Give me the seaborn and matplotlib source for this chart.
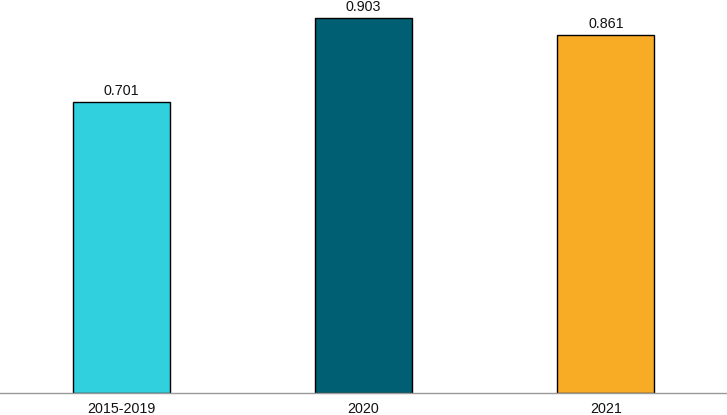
import pandas as pd
import matplotlib
matplotlib.use("Agg")
import matplotlib.pyplot as plt
import seaborn as sns

# chart values
periods = ["2015-2019", "2020", "2021"]
values = [0.701, 0.903, 0.861]
colors = ["#31D0DF", "#005F73", "#F8AB25"]

df = pd.DataFrame({"period": periods, "value": values})

sns.set_style("white")
plt.rcParams["font.family"] = ["Liberation Sans", "DejaVu Sans"]

fig = plt.figure(figsize=(7.27, 4.15), dpi=100)
ax = fig.add_axes([0, 0.0537, 1, 0.9463])

sns.barplot(data=df, x="period", y="value", hue="period", palette=colors,
            width=0.4, edgecolor="black", linewidth=1, saturation=1,
            legend=False, ax=ax)

for c in ax.containers:
    ax.bar_label(c, fmt="%.3f", padding=3, fontsize=10.3, color="#111111")

ax.set_xlim(-0.5, 2.5)
ax.set_ylim(0, 0.946)
ax.set_xlabel("")
ax.set_ylabel("")
ax.set_yticks([])
ax.tick_params(axis="x", length=0, pad=7, labelsize=10.3, colors="#111111")

for side in ["top", "left", "right"]:
    ax.spines[side].set_visible(False)
ax.spines["bottom"].set_color("#999999")
ax.spines["bottom"].set_linewidth(1)

fig.savefig("out.png", dpi=100)
